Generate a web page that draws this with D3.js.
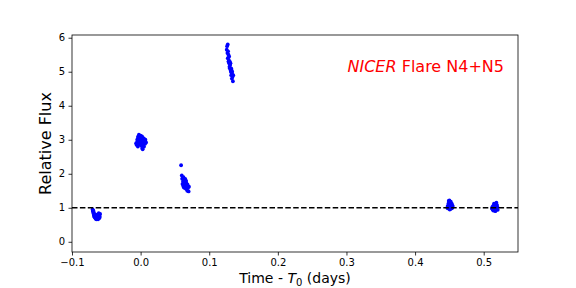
<!DOCTYPE html>
<html><head><meta charset="utf-8">
<script src="https://cdn.jsdelivr.net/npm/d3@7"></script>
<style>body{margin:0;background:#fff}svg{display:block;font-family:"DejaVu Sans",sans-serif}</style>
</head><body><svg id="c" width="576" height="288"></svg>
<script>
const times = [
 -0.0700,-0.0695,-0.0690,-0.0690,-0.0685,-0.0680,-0.0680,-0.0675,-0.0670,-0.0670,-0.0665,-0.0660,-0.0660,-0.0655,-0.0650,-0.0650,-0.0645,-0.0640,-0.0640,-0.0635,-0.0630,-0.0630,-0.0625,-0.0620,-0.0620,-0.0615,-0.0610,-0.0610,-0.0605,-0.0600,-0.0600,-0.0595,-0.0590,
 -0.0065,-0.0060,-0.0050,-0.0045,-0.0040,-0.0040,-0.0035,-0.0030,-0.0025,-0.0020,-0.0020,-0.0015,-0.0010,-0.0005,0.0000,0.0000,0.0005,0.0010,0.0015,0.0020,0.0020,0.0025,0.0030,0.0035,0.0040,0.0045,0.0050,0.0055,0.0060,0.0065,0.0070,0.0080,0.0030,
 0.0590,0.0600,0.0605,0.0610,0.0615,0.0620,0.0620,0.0625,0.0630,0.0630,0.0635,0.0640,0.0640,0.0645,0.0650,0.0655,0.0660,0.0660,0.0665,0.0670,0.0675,0.0680,0.0685,0.0690,0.0700,0.0705,0.0660,0.0630,
 0.1255,0.1260,0.1265,0.1270,0.1270,0.1275,0.1280,0.1280,0.1285,0.1290,0.1290,0.1295,0.1300,0.1300,0.1305,0.1310,0.1310,0.1315,0.1320,0.1320,0.1325,0.1330,0.1330,0.1335,0.1340,0.1345,0.1350,
 0.4470,0.4475,0.4480,0.4485,0.4490,0.4495,0.4500,0.4505,0.4510,0.4515,0.4520,0.4525,0.4530,0.4535,0.4540,0.4545,0.4550,0.4500,0.4510,0.4520,
 0.5120,0.5125,0.5130,0.5135,0.5140,0.5145,0.5150,0.5155,0.5160,0.5165,0.5170,0.5175,0.5180,0.5185,0.5190,0.5195,0.5200,0.5205,0.5150,0.5170
];
const flux = [
 0.95,0.90,0.92,0.85,0.88,0.80,0.76,0.78,0.82,0.72,0.75,0.70,0.78,0.68,0.74,0.80,0.66,0.72,0.70,0.76,0.68,0.74,0.80,0.70,0.66,0.78,0.72,0.84,0.76,0.70,0.80,0.74,0.82,
 2.90,2.85,3.00,2.95,3.05,2.80,3.10,2.92,3.15,2.88,3.02,2.95,3.08,2.85,2.98,3.12,2.90,3.05,2.82,2.95,3.10,2.75,3.00,2.88,3.05,2.92,2.80,3.02,2.95,2.88,3.00,2.92,2.72,
 2.25,1.95,1.85,1.70,1.88,1.65,1.78,1.90,1.72,1.60,1.82,1.68,1.75,1.58,1.85,1.70,1.62,1.78,1.55,1.72,1.65,1.50,1.68,1.58,1.48,1.62,1.80,1.75,
 5.65,5.75,5.55,5.80,5.40,5.60,5.30,5.50,5.35,5.25,5.45,5.15,5.30,5.10,5.20,5.05,5.25,5.00,5.10,4.90,5.05,4.95,4.80,5.00,4.85,4.72,4.90,
 1.00,1.05,0.98,1.12,1.20,1.08,1.15,0.95,1.10,1.02,1.18,1.05,0.98,1.12,1.08,1.00,1.05,1.22,0.96,1.10,
 0.98,1.02,0.95,1.05,0.92,1.00,1.08,0.96,1.10,1.04,0.98,1.12,1.06,1.15,1.00,1.08,1.02,0.94,1.12,0.90
];
const xTicks = [-0.1,0.0,0.1,0.2,0.3,0.4,0.5];
const yTicks = [0,1,2,3,4,5,6];
const xDomain = [-0.1,0.55];
const yDomain = [-0.3,6.08];
const refLevel = 1;

const svg = d3.select("#c");
const m = {l:72, r:518, t:35, b:252};
const x = d3.scaleLinear().domain(xDomain).range([m.l, m.r]);
const y = d3.scaleLinear().domain(yDomain).range([m.b, m.t]);

svg.append("g").selectAll("circle").data(times.map((t,i)=>[t,flux[i]])).join("circle")
  .attr("cx", d=>x(d[0])).attr("cy", d=>y(d[1])).attr("r", 1.9).attr("fill", "#0000ff");

svg.append("line").attr("x1", m.l).attr("x2", m.r).attr("y1", y(refLevel)).attr("y2", y(refLevel))
  .attr("stroke", "#000").attr("stroke-width", 1.5).attr("stroke-dasharray", "5.5,2.4");

svg.append("rect").attr("x", m.l).attr("y", m.t).attr("width", m.r-m.l).attr("height", m.b-m.t)
  .attr("fill","none").attr("stroke","#000").attr("stroke-width",0.8);

const fmtX = d => (d<0 ? "\u2212" : "") + Math.abs(d).toFixed(1);
const xa = svg.append("g").attr("transform", `translate(0,${m.b})`)
  .call(d3.axisBottom(x).tickValues(xTicks).tickFormat(fmtX).tickSizeOuter(0).tickSize(3.5).tickPadding(3.5));
const ya = svg.append("g").attr("transform", `translate(${m.l},0)`)
  .call(d3.axisLeft(y).tickValues(yTicks).tickFormat(d3.format("d")).tickSizeOuter(0).tickSize(3.5).tickPadding(3.5));
[xa, ya].forEach(a => {
  a.select(".domain").remove();
  a.selectAll("line").attr("stroke","#000").attr("stroke-width",0.8);
  a.selectAll("text").attr("font-family","DejaVu Sans").attr("font-size",10).attr("fill","#000");
});

const xl = svg.append("text").attr("x", (m.l+m.r)/2).attr("y", 283).attr("text-anchor","middle")
  .attr("font-size",14).attr("fill","#000");
xl.append("tspan").text("Time - ");
xl.append("tspan").attr("font-style","italic").text("T");
xl.append("tspan").attr("font-size",10).attr("dy",3).text("0");
xl.append("tspan").attr("dy",-3).text(" (days)");

svg.append("text").attr("transform", `translate(51,${(m.t+m.b)/2}) rotate(-90)`).attr("text-anchor","middle")
  .attr("font-size",16).attr("fill","#000").text("Relative Flux");

const ann = svg.append("text").attr("x", 504).attr("y", 72).attr("text-anchor","end")
  .attr("font-size",16).attr("fill","#ff0000");
ann.append("tspan").attr("font-style","italic").text("NICER");
ann.append("tspan").text(" Flare N4+N5");
</script></body></html>
